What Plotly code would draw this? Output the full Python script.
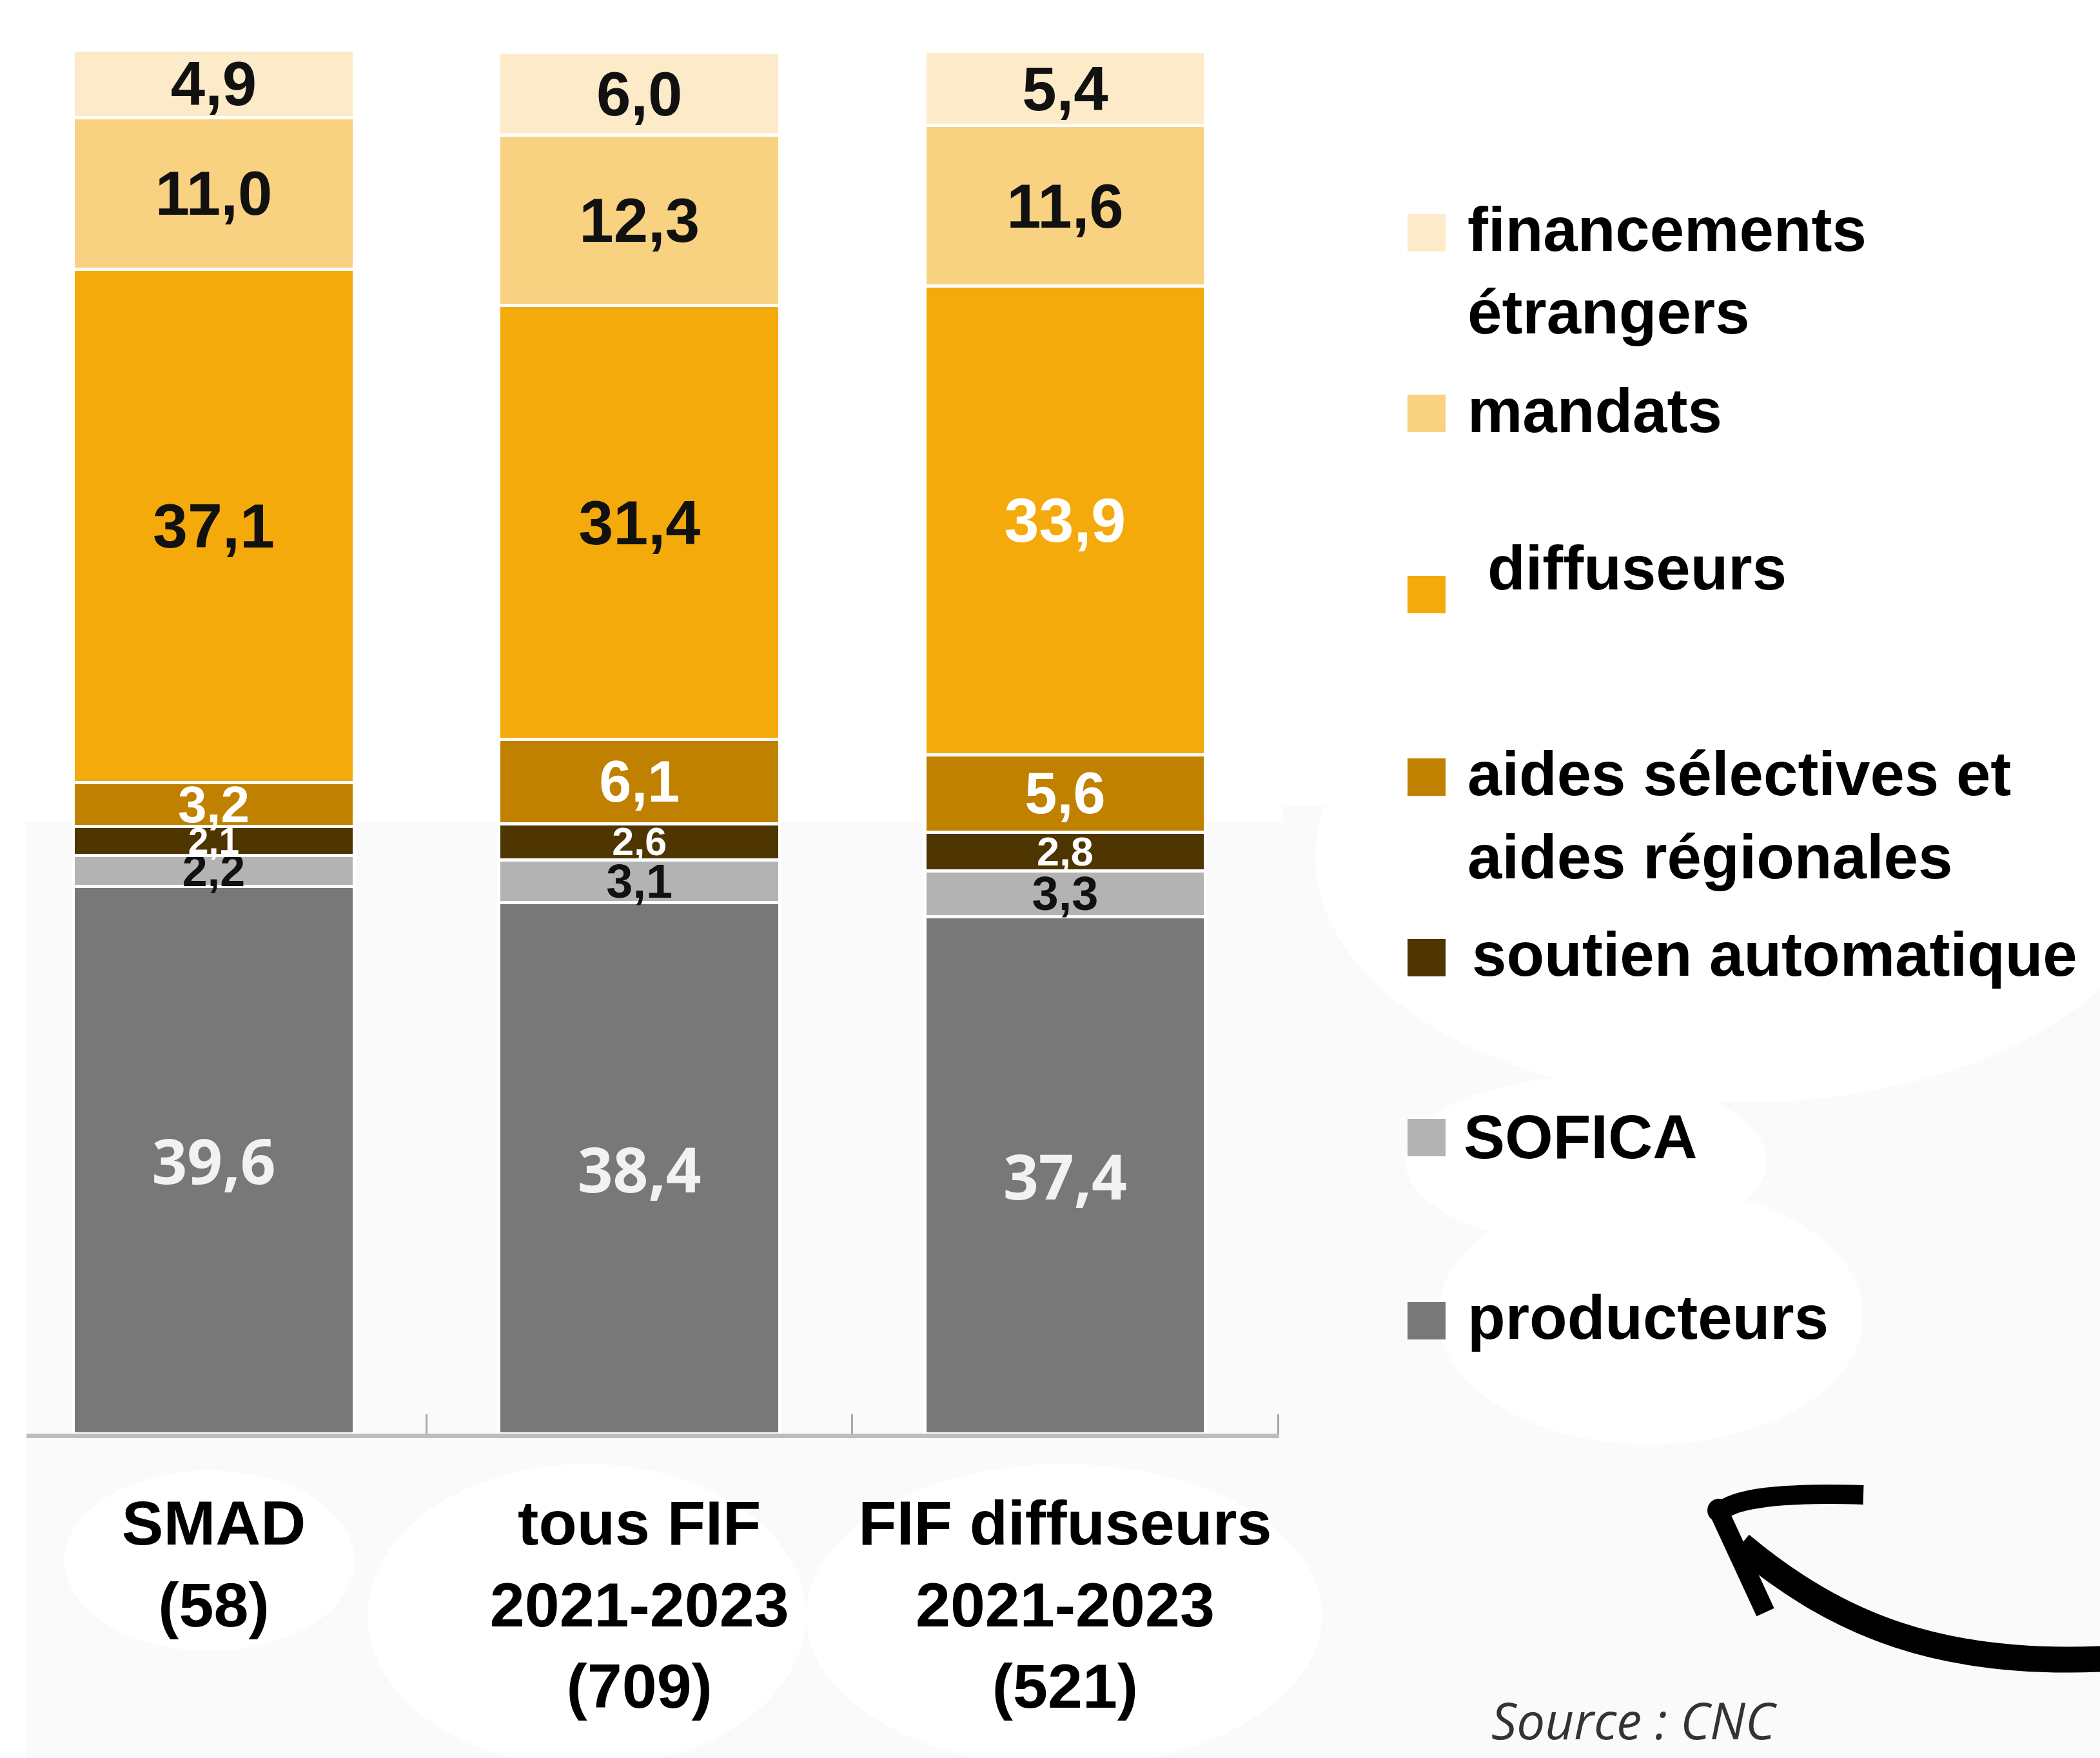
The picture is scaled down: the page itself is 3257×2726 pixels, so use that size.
import plotly.graph_objects as go

# ---- data -------------------------------------------------------------
categories = [
    "SMAD<br>(58)",
    "tous FIF<br>2021-2023<br>(709)",
    "FIF diffuseurs<br>2021-2023<br>(521)",
]

series_names = [
    "producteurs",
    "SOFICA",
    "soutien automatique",
    "aides sélectives et aides régionales",
    "diffuseurs",
    "mandats",
    "financements étrangers",
]
producteurs = [39.6, 38.4, 37.4]
sofica = [2.2, 3.1, 3.3]
soutien_automatique = [2.1, 2.6, 2.8]
aides_selectives_regionales = [3.2, 6.1, 5.6]
diffuseurs = [37.1, 31.4, 33.9]
mandats = [11.0, 12.3, 11.6]
financements_etrangers = [4.9, 6.0, 5.4]

series_values = [producteurs, sofica, soutien_automatique, aides_selectives_regionales,
                 diffuseurs, mandats, financements_etrangers]

# legend text (line by line) for each series
legend_lines = {
    "financements étrangers": ["financements", "étrangers"],
    "mandats": ["mandats"],
    "diffuseurs": ["diffuseurs"],
    "aides sélectives et aides régionales": ["aides sélectives et", "aides régionales"],
    "soutien automatique": ["soutien automatique"],
    "SOFICA": ["SOFICA"],
    "producteurs": ["producteurs"],
}

# ---- styles -----------------------------------------------------------
colors = ["#787878", "#b3b3b3", "#4f3500", "#c08000", "#f4aa0a", "#f8d281", "#fdeac8"]
label_colors = [
    ["#f2f2f2"] * 3,
    ["#111111"] * 3,
    ["#ffffff"] * 3,
    ["#ffffff"] * 3,
    ["#111111", "#111111", "#ffffff"],
    ["#111111"] * 3,
    ["#111111"] * 3,
]
label_sizes = [
    [96, 96, 96],
    [70, 74, 74],
    [57, 61, 63],
    [80, 90, 90],
    [97, 97, 97],
    [96, 96, 96],
    [96, 96, 96],
]
ARIAL = "Liberation Sans, Arial, Helvetica, sans-serif"
OPEN = "Open Sans, DejaVu Sans, sans-serif"
label_fonts = [OPEN] + [ARIAL] * 6

W, H = 3257, 2726
PL, PR, PT, PB = 41, 1984, 77, 2223   # plot area edges in pixels


def fx(x):
    return (x - PL) / (PR - PL)


def fy(y):
    return (PB - y) / (PB - PT)


fig = go.Figure()

for name, vals, col, lc, ls, lf in zip(series_names, series_values, colors,
                                       label_colors, label_sizes, label_fonts):
    fig.add_trace(go.Bar(
        x=categories,
        y=vals,
        name=name,
        width=0.66,
        marker=dict(color=col, line=dict(color="#ffffff", width=5)),
        texttemplate="%{y:.1f}",
        textposition="inside",
        insidetextanchor="middle",
        textangle=0,
        constraintext="none",
        textfont=dict(family=lf, size=ls, color=lc, weight="bold"),
        hoverinfo="skip",
    ))

shapes = []

# soft background patches
GREY = "#fafafa"
for x0, y0, x1, y1 in [(41, 1275, 1990, 2232), (41, 2232, W, H), (1990, 1250, W, 2232)]:
    shapes.append(dict(type="rect", xref="paper", yref="paper", layer="below",
                       x0=fx(x0), x1=fx(x1), y0=fy(y1), y1=fy(y0),
                       fillcolor=GREY, line=dict(width=0)))
for cx, cy, rx, ry in [(325, 2420, 225, 140), (910, 2505, 340, 235), (1650, 2505, 400, 235),
                       (2700, 1330, 660, 380), (2460, 1800, 280, 130), (2560, 2040, 330, 200)]:
    shapes.append(dict(type="circle", xref="paper", yref="paper", layer="below",
                       x0=fx(cx - rx), x1=fx(cx + rx), y0=fy(cy + ry), y1=fy(cy - ry),
                       fillcolor="#ffffff", line=dict(width=0)))

# legend swatches and labels
annotations = []
legend_layout = [
    # name, swatch bottom, text x, baselines
    ("financements étrangers", 390, 2274, [390, 518]),
    ("mandats", 670, 2274, [671]),
    ("diffuseurs", 951, 2305, [915]),
    ("aides sélectives et aides régionales", 1234, 2274, [1234, 1363]),
    ("soutien automatique", 1514, 2281, [1514]),
    ("SOFICA", 1793, 2268, [1797]),
    ("producteurs", 2077, 2274, [2077]),
]
LEG_SIZE = 96
for name, sq_bottom, tx, baselines in legend_layout:
    col = colors[series_names.index(name)]
    shapes.append(dict(type="rect", xref="paper", yref="paper",
                       x0=fx(2183), x1=fx(2242), y0=fy(sq_bottom), y1=fy(sq_bottom - 58),
                       fillcolor=col, line=dict(width=0)))
    for line_text, base in zip(legend_lines[name], baselines):
        annotations.append(dict(
            text=line_text, xref="paper", yref="paper",
            x=fx(tx), y=fy(base + 21), xanchor="left", yanchor="bottom",
            showarrow=False,
            font=dict(family=ARIAL, size=LEG_SIZE, color="#000000", weight="bold"),
        ))

# source note
annotations.append(dict(
    text="Source : CNC", xref="paper", yref="paper",
    x=fx(2311), y=fy(2702 + 20), xanchor="left", yanchor="bottom", showarrow=False,
    font=dict(family=OPEN, size=78, color="#333333", style="italic"),
))


# hand-drawn style arrow pointing back at the chart
def pth(cmds):
    out = []
    for c in cmds:
        if isinstance(c, str):
            out.append(c)
        else:
            out.append(f"{fx(c[0]):.5f},{fy(c[1]):.5f}")
    return " ".join(out)


arrow_paths = [
    (pth(["M", (2700, 2395), "C", (2850, 2520), (3010, 2585), (3270, 2572)]), 40),
    (pth(["M", (2668, 2345), "Q", (2700, 2312), (2890, 2318)]), 30),
    (pth(["M", (2664, 2340), "L", (2738, 2500)]), 30),
]
for p, wdt in arrow_paths:
    shapes.append(dict(type="path", xref="paper", yref="paper", path=p,
                       line=dict(color="#000000", width=wdt)))
shapes.append(dict(type="circle", xref="paper", yref="paper",
                   x0=fx(2648), x1=fx(2684), y0=fy(2360), y1=fy(2324),
                   fillcolor="#000000", line=dict(width=0)))

fig.update_layout(
    barmode="stack",
    width=W, height=H, autosize=False,
    margin=dict(l=PL, r=W - PR, t=PT, b=H - PB, pad=0, autoexpand=False),
    paper_bgcolor="#ffffff",
    plot_bgcolor="rgba(0,0,0,0)",
    separators=", ",
    showlegend=False,
    shapes=shapes,
    annotations=annotations,
    xaxis=dict(
        type="category",
        range=[-0.44, 2.503],
        tickson="boundaries",
        ticks="inside", ticklen=30, tickwidth=3, tickcolor="#a8a8a8",
        showline=True, linecolor="#bdbdbd", linewidth=7,
        showgrid=False, zeroline=False,
        tickfont=dict(family=ARIAL, size=97, color="#000000", weight="bold"),
        ticklabelstandoff=49,
        automargin=False,
    ),
    yaxis=dict(range=[0, 100.1], visible=False, showgrid=False, zeroline=False),
)

fig.write_html("out.html")
